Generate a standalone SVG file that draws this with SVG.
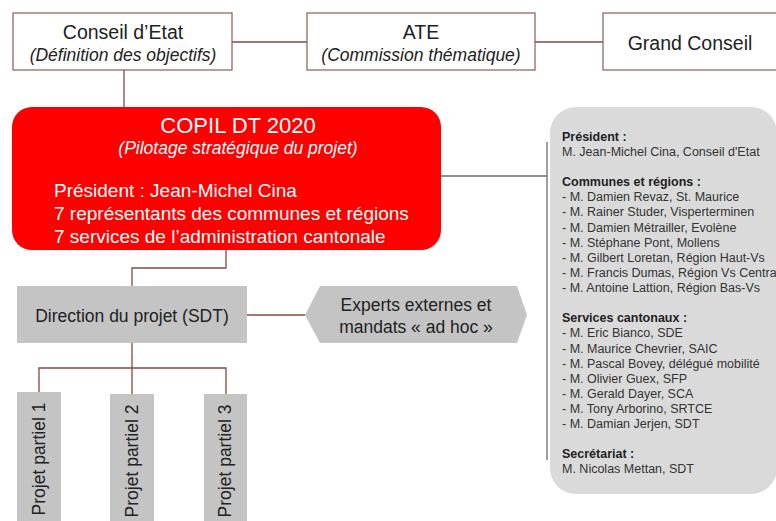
<svg xmlns="http://www.w3.org/2000/svg" width="776" height="521" viewBox="0 0 776 521">
  <style>
    text { font-family: "Liberation Sans", Arial, sans-serif; }
    .top-box { fill: #ffffff; stroke: #8a5a5a; stroke-width: 1.2; }
    .top-title { font-size: 19.5px; fill: #222; text-anchor: middle; }
    .top-sub { font-size: 17.5px; font-style: italic; fill: #222; text-anchor: middle; }
    .copil-box { fill: #fe0000; }
    .copil-title { font-size: 22px; fill: #fff; text-anchor: middle; }
    .copil-sub { font-size: 17.5px; font-style: italic; fill: #fff; text-anchor: middle; }
    .copil-body { font-size: 19px; fill: #fff; }
    .grey-box { fill: #c4c4c4; }
    .grey-label { font-size: 17.5px; fill: #222; text-anchor: middle; }
    .panel { fill: #dadada; }
    .panel-head { font-size: 12.5px; font-weight: bold; fill: #222; }
    .panel-item { font-size: 12.5px; fill: #333; }
    .link { fill: none; stroke: #8a4545; stroke-width: 1.3; }
    .link-top { fill: none; stroke: #7b4b4b; stroke-width: 1.3; }
    .link-grey { fill: none; stroke: #6a6a6a; stroke-width: 1.3; }
  </style>

  <!-- connectors -->
  <g id="connectors">
    <path class="link-top" d="M232 42 H307"/>
    <path class="link-top" d="M535 42 H603"/>
    <path class="link-top" d="M124 70 V107"/>
    <path class="link-grey" d="M441 176 H547"/>
    <path class="link-grey" d="M547 142 V460"/>
    <path class="link" d="M226 250 V268 H132 V286"/>
    <path class="link" d="M247 315 H305"/>
    <path class="link" d="M132 343 V394"/>
    <path class="link" d="M39 392 V368 H226 V394"/>
  </g>

  <!-- top row -->
  <g id="conseil-etat">
    <rect class="top-box" x="13" y="13" width="219" height="57"/>
    <text class="top-title" x="123" y="39">Conseil d’Etat</text>
    <text class="top-sub" x="123" y="61">(Définition des objectifs)</text>
  </g>
  <g id="ate">
    <rect class="top-box" x="307" y="13" width="228" height="57"/>
    <text class="top-title" x="421" y="39">ATE</text>
    <text class="top-sub" x="421" y="61">(Commission thématique)</text>
  </g>
  <g id="grand-conseil">
    <rect class="top-box" x="603" y="13" width="176" height="57"/>
    <text class="top-title" x="690" y="50">Grand Conseil</text>
  </g>

  <!-- steering committee -->
  <g id="copil">
    <rect class="copil-box" x="12" y="107" width="429" height="143" rx="20"/>
    <text class="copil-title" x="238" y="133">COPIL DT 2020</text>
    <text class="copil-sub" x="238" y="154">(Pilotage stratégique du projet)</text>
    <text class="copil-body" x="54" y="197">Président : Jean-Michel Cina</text>
    <text class="copil-body" x="54" y="220">7 représentants des communes et régions</text>
    <text class="copil-body" x="54" y="243">7 services de l’administration cantonale</text>
  </g>

  <!-- member list -->
  <g id="members">
    <rect class="panel" x="550" y="107" width="227" height="387" rx="26"/>
    <text class="panel-head" x="562" y="141">Président :</text>
    <text class="panel-item" x="562" y="156">M. Jean-Michel Cina, Conseil d'Etat</text>
    <text class="panel-head" x="562" y="186">Communes et régions :</text>
    <text class="panel-item" x="562" y="201">- M. Damien Revaz, St. Maurice</text>
    <text class="panel-item" x="562" y="216">- M. Rainer Studer, Visperterminen</text>
    <text class="panel-item" x="562" y="232">- M. Damien Métrailler, Evolène</text>
    <text class="panel-item" x="562" y="247">- M. Stéphane Pont, Mollens</text>
    <text class="panel-item" x="562" y="262">- M. Gilbert Loretan, Région Haut-Vs</text>
    <text class="panel-item" x="562" y="277">- M. Francis Dumas, Région Vs Central</text>
    <text class="panel-item" x="562" y="292">- M. Antoine Lattion, Région Bas-Vs</text>
    <text class="panel-head" x="562" y="322">Services cantonaux :</text>
    <text class="panel-item" x="562" y="337">- M. Eric Bianco, SDE</text>
    <text class="panel-item" x="562" y="353">- M. Maurice Chevrier, SAIC</text>
    <text class="panel-item" x="562" y="368">- M. Pascal Bovey, délégué mobilité</text>
    <text class="panel-item" x="562" y="383">- M. Olivier Guex, SFP</text>
    <text class="panel-item" x="562" y="398">- M. Gerald Dayer, SCA</text>
    <text class="panel-item" x="562" y="413">- M. Tony Arborino, SRTCE</text>
    <text class="panel-item" x="562" y="428">- M. Damian Jerjen, SDT</text>
    <text class="panel-head" x="562" y="458">Secrétariat :</text>
    <text class="panel-item" x="562" y="473">M. Nicolas Mettan, SDT</text>
  </g>

  <!-- project direction -->
  <g id="direction">
    <rect class="grey-box" x="17" y="286" width="230" height="57"/>
    <text class="grey-label" x="132" y="322">Direction du projet (SDT)</text>
  </g>

  <g id="experts">
    <polygon class="grey-box" points="305,315 320,286 517,286 527,315 517,343 320,343"/>
    <text class="grey-label" x="416" y="311">Experts externes et</text>
    <text class="grey-label" x="416" y="333">mandats « ad hoc »</text>
  </g>

  <!-- sub-projects -->
  <g id="projet-1">
    <rect class="grey-box" x="17" y="392" width="44" height="129"/>
    <text class="grey-label" transform="translate(45,459) rotate(-90)">Projet partiel 1</text>
  </g>
  <g id="projet-2">
    <rect class="grey-box" x="110" y="394" width="44" height="127"/>
    <text class="grey-label" transform="translate(138,461) rotate(-90)">Projet partiel 2</text>
  </g>
  <g id="projet-3">
    <rect class="grey-box" x="204" y="394" width="43" height="127"/>
    <text class="grey-label" transform="translate(231,461) rotate(-90)">Projet partiel 3</text>
  </g>
</svg>
